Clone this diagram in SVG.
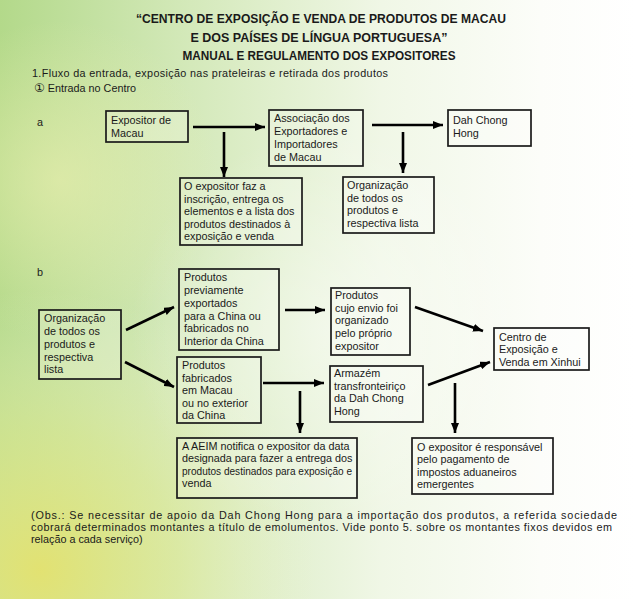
<svg xmlns="http://www.w3.org/2000/svg" width="636" height="599" viewBox="0 0 636 599">
<defs>
<linearGradient id="bg" x1="0" y1="0" x2="1" y2="0">
<stop offset="0" stop-color="#b3d98a"/>
<stop offset="0.3" stop-color="#d4e9ba"/>
<stop offset="0.6" stop-color="#f0f7e6"/>
<stop offset="0.85" stop-color="#fcfdf9"/>
<stop offset="1" stop-color="#ffffff"/>
</linearGradient>
<radialGradient id="yel" cx="40" cy="570" r="280" gradientUnits="userSpaceOnUse">
<stop offset="0" stop-color="#e4e270" stop-opacity="0.95"/>
<stop offset="0.5" stop-color="#e2ea94" stop-opacity="0.55"/>
<stop offset="1" stop-color="#f0f5d0" stop-opacity="0"/>
</radialGradient>
<radialGradient id="yel2" cx="60" cy="180" r="160" gradientUnits="userSpaceOnUse">
<stop offset="0" stop-color="#eef0b0" stop-opacity="0.6"/>
<stop offset="1" stop-color="#eef0b0" stop-opacity="0"/>
</radialGradient>
<radialGradient id="lite" cx="330" cy="330" r="200" gradientUnits="userSpaceOnUse">
<stop offset="0" stop-color="#ffffff" stop-opacity="0.45"/>
<stop offset="1" stop-color="#ffffff" stop-opacity="0"/>
</radialGradient>
<marker id="ah" viewBox="0 0 10 8" refX="10" refY="4" markerWidth="10" markerHeight="8" markerUnits="userSpaceOnUse" orient="auto">
<path d="M0,0 L10,4 L0,8 Z" fill="#000"/>
</marker>
</defs>
<style>
.bx{fill:#ffffff;fill-opacity:0.22;stroke:#1a1a1a;stroke-width:1.7}
.t{font-family:"Liberation Sans",Arial,sans-serif;font-size:10.8px;fill:#1a1a1a}
.h{font-family:"Liberation Sans",Arial,sans-serif;font-size:13.5px;font-weight:bold;fill:#1a1a1a;text-anchor:middle}
.ar{stroke:#000;stroke-width:2.6;fill:none;marker-end:url(#ah)}
</style>
<rect x="0" y="0" width="636" height="599" fill="url(#bg)"/>
<rect x="0" y="0" width="636" height="599" fill="url(#yel)"/>
<rect x="0" y="0" width="636" height="599" fill="url(#yel2)"/>
<rect x="0" y="0" width="636" height="599" fill="url(#lite)"/>

<g id="title">
<text class="h" x="321" y="23" textLength="370" lengthAdjust="spacingAndGlyphs">“CENTRO DE EXPOSIÇÃO E VENDA DE PRODUTOS DE MACAU</text>
<text class="h" x="319" y="42" textLength="257" lengthAdjust="spacingAndGlyphs">E DOS PAÍSES DE LÍNGUA PORTUGUESA”</text>
<text class="h" x="319" y="60" textLength="273" lengthAdjust="spacingAndGlyphs">MANUAL E REGULAMENTO DOS EXPOSITORES</text>
</g>
<g id="headings">
<text class="t" x="32" y="77" textLength="356" lengthAdjust="spacing">1.Fluxo da entrada, exposição nas prateleiras e retirada dos produtos</text>
<text class="t" x="34" y="92"><tspan font-family="DejaVu Sans" font-size="12">①</tspan> Entrada no Centro</text>
<text class="t" x="37" y="126">a</text>
<text class="t" x="37" y="276">b</text>
</g>

<g id="connectors">
<line class="ar" x1="193" y1="127" x2="265" y2="127"/>
<line class="ar" x1="224" y1="132" x2="224" y2="177"/>
<line class="ar" x1="372" y1="125" x2="443" y2="125"/>
<line class="ar" x1="403" y1="132" x2="403" y2="173"/>
<line class="ar" x1="126" y1="330" x2="174" y2="307"/>
<line class="ar" x1="125" y1="362" x2="174" y2="387"/>
<line class="ar" x1="285" y1="310" x2="325" y2="310"/>
<line class="ar" x1="263" y1="383" x2="324" y2="383"/>
<line class="ar" x1="300" y1="391" x2="300" y2="433"/>
<line class="ar" x1="415" y1="307" x2="483" y2="331"/>
<line class="ar" x1="428" y1="385" x2="490" y2="362"/>
<line class="ar" x1="455" y1="383" x2="455" y2="433"/>
</g>

<g id="n1"><rect class="bx" x="106" y="111" width="82" height="31"/>
<text class="t" x="111" y="124">Expositor de</text><text class="t" x="111" y="137">Macau</text></g>
<g id="n2"><rect class="bx" x="269" y="110" width="94" height="56"/>
<text class="t" x="274" y="122">Associação dos</text><text class="t" x="274" y="135">Exportadores e</text><text class="t" x="274" y="148">Importadores</text><text class="t" x="274" y="161">de Macau</text></g>
<g id="n3"><rect class="bx" x="448" y="110" width="83" height="36"/>
<text class="t" x="453" y="124">Dah Chong</text><text class="t" x="453" y="137">Hong</text></g>
<g id="n4"><rect class="bx" x="180" y="178" width="122" height="67"/>
<text class="t" x="184" y="190">O expositor faz a</text><text class="t" x="184" y="202.5">inscrição, entrega os</text><text class="t" x="184" y="215">elementos e a lista dos</text><text class="t" x="184" y="227.5">produtos destinados à</text><text class="t" x="184" y="240">exposição e venda</text></g>
<g id="n5"><rect class="bx" x="343" y="177" width="91" height="56"/>
<text class="t" x="347" y="189">Organização</text><text class="t" x="347" y="202">de todos os</text><text class="t" x="347" y="214">produtos e</text><text class="t" x="347" y="227">respectiva lista</text></g>

<g id="n6"><rect class="bx" x="39" y="310" width="82" height="69"/>
<text class="t" x="44" y="322">Organização</text><text class="t" x="44" y="335">de todos os</text><text class="t" x="44" y="348">produtos e</text><text class="t" x="44" y="361">respectiva</text><text class="t" x="44" y="373">lista</text></g>
<g id="n7"><rect class="bx" x="179" y="269" width="100" height="81"/>
<text class="t" x="184" y="281">Produtos</text><text class="t" x="184" y="294">previamente</text><text class="t" x="184" y="307">exportados</text><text class="t" x="184" y="320">para a China ou</text><text class="t" x="184" y="332">fabricados no</text><text class="t" x="184" y="345">Interior da China</text></g>
<g id="n8"><rect class="bx" x="177" y="357" width="84" height="66"/>
<text class="t" x="182" y="369">Produtos</text><text class="t" x="182" y="382">fabricados</text><text class="t" x="182" y="394">em Macau</text><text class="t" x="182" y="407">ou no exterior</text><text class="t" x="182" y="419">da China</text></g>
<g id="n9"><rect class="bx" x="331" y="288" width="79" height="67"/>
<text class="t" x="335" y="299">Produtos</text><text class="t" x="335" y="312">cujo envio foi</text><text class="t" x="335" y="324">organizado</text><text class="t" x="335" y="337">pelo próprio</text><text class="t" x="335" y="350">expositor</text></g>
<g id="n10"><rect class="bx" x="330" y="366" width="93" height="56"/>
<text class="t" x="334" y="377">Armazém</text><text class="t" x="334" y="390">transfronteiriço</text><text class="t" x="334" y="402">da Dah Chong</text><text class="t" x="334" y="415">Hong</text></g>
<g id="n11"><rect class="bx" x="494" y="328" width="95" height="42"/>
<text class="t" x="499" y="341">Centro de</text><text class="t" x="499" y="353">Exposição e</text><text class="t" x="499" y="366">Venda em Xinhui</text></g>
<g id="n12"><rect class="bx" x="177" y="438" width="180" height="60"/>
<text class="t" x="182" y="450">A AEIM notifica o expositor da data</text><text class="t" x="182" y="462">designada para fazer a entrega dos</text><text class="t" x="182" y="475" textLength="170" lengthAdjust="spacingAndGlyphs">produtos destinados para exposição e</text><text class="t" x="182" y="487">venda</text></g>
<g id="n13"><rect class="bx" x="412" y="438" width="141" height="56"/>
<text class="t" x="417" y="451">O expositor é responsável</text><text class="t" x="417" y="463">pelo pagamento de</text><text class="t" x="417" y="476">impostos aduaneiros</text><text class="t" x="417" y="488">emergentes</text></g>

<g id="note">
<text class="t" x="31" y="519" textLength="586" lengthAdjust="spacing">(Obs.: Se necessitar de apoio da Dah Chong Hong para a importação dos produtos, a referida sociedade</text>
<text class="t" x="31" y="531" textLength="581" lengthAdjust="spacing">cobrará determinados montantes a título de emolumentos. Vide ponto 5. sobre os montantes fixos devidos em</text>
<text class="t" x="31" y="543">relação a cada serviço)</text>
</g>
</svg>
